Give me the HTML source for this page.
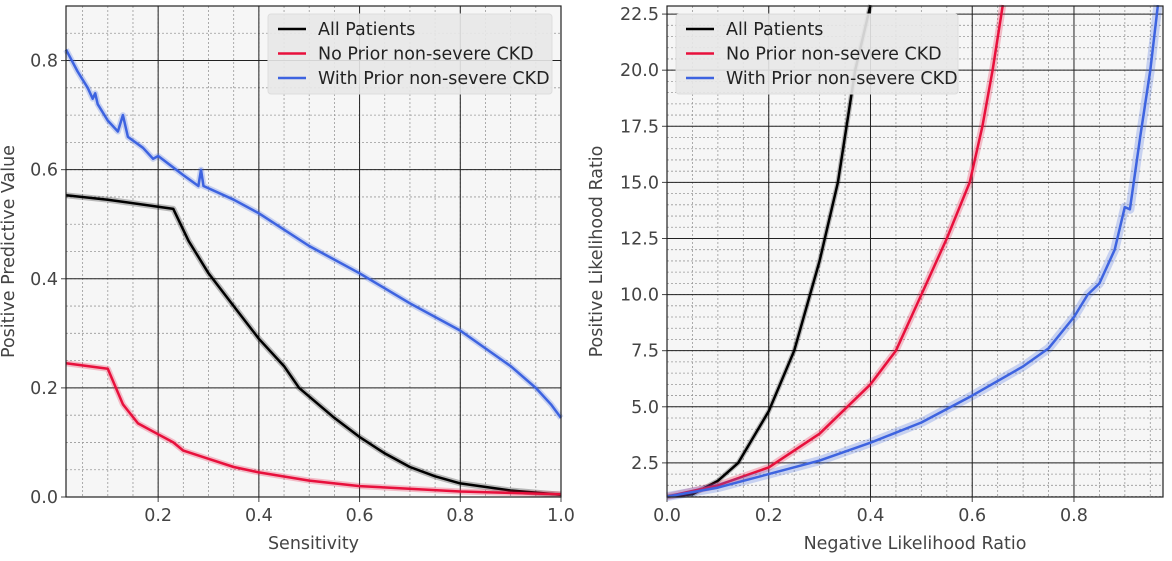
<!DOCTYPE html>
<html><head><meta charset="utf-8"><style>
body{margin:0;background:#fff;font-family:"Liberation Sans","DejaVu Sans",sans-serif}
svg text{font-family:"DejaVu Sans","Liberation Sans",sans-serif;fill:#444}
</style></head><body>
<svg id="c" width="1172" height="556"></svg>
<script>
// Left panel data: sensitivity vs positive predictive value
const leftXTicks=[0.2,0.4,0.6,0.8,1.0];
const leftYTicks=[0.0,0.2,0.4,0.6,0.8];
const allSens=[0.017,0.1,0.2,0.23,0.26,0.3,0.35,0.4,0.45,0.48,0.55,0.6,0.65,0.7,0.75,0.8,0.9,1.0];
const allPPV=[0.553,0.545,0.532,0.528,0.47,0.41,0.35,0.29,0.24,0.2,0.145,0.11,0.08,0.055,0.038,0.025,0.012,0.004];
const noSens=[0.017,0.1,0.13,0.16,0.2,0.23,0.25,0.3,0.35,0.4,0.5,0.6,0.8,1.0];
const noPPV=[0.245,0.235,0.17,0.135,0.115,0.1,0.085,0.07,0.055,0.045,0.03,0.02,0.01,0.005];
const wSens=[0.017,0.04,0.06,0.07,0.075,0.08,0.1,0.12,0.13,0.14,0.17,0.19,0.2,0.25,0.28,0.285,0.29,0.35,0.4,0.5,0.6,0.7,0.8,0.9,0.95,0.98,1.0];
const wPPV=[0.82,0.78,0.75,0.73,0.74,0.72,0.69,0.67,0.70,0.66,0.64,0.62,0.625,0.59,0.57,0.60,0.57,0.545,0.52,0.46,0.41,0.355,0.305,0.24,0.2,0.17,0.145];
// Right panel data: negative LR vs positive LR
const rightXTicks=[0.0,0.2,0.4,0.6,0.8];
const rightYTicks=[2.5,5.0,7.5,10.0,12.5,15.0,17.5,20.0,22.5];
const allNLR=[0,0.05,0.1,0.14,0.2,0.25,0.3,0.336,0.37,0.4];
const allPLR=[1,1.1,1.7,2.5,4.8,7.5,11.5,15,20,22.9];
const noNLR=[0,0.1,0.2,0.3,0.4,0.45,0.5,0.55,0.595,0.62,0.64,0.66];
const noPLR=[1,1.5,2.3,3.8,6,7.5,10,12.5,15,17.5,20,22.9];
const wNLR=[0,0.1,0.2,0.3,0.4,0.5,0.6,0.7,0.75,0.8,0.827,0.85,0.88,0.9,0.91,0.93,0.95,0.965];
const wPLR=[1,1.4,2,2.6,3.4,4.3,5.5,6.8,7.6,9,10,10.5,12,13.9,13.8,17,20,22.9];

const NS="http://www.w3.org/2000/svg",svg=document.getElementById('c');
function el(t,a,p){const e=document.createElementNS(NS,t);for(const k in a)e.setAttribute(k,a[k]);(p||svg).appendChild(e);return e;}
const BLACK='#000',RED='#e8103c',BLUE='#3d63e0',FS=17.5;
function panel(o){
  const g=el('g',{});
  
  
  const sx=v=>o.x0+(v-o.xmin)/(o.xmax-o.xmin)*(o.x1-o.x0);
  const sy=v=>o.y1-(v-o.ymin)/(o.ymax-o.ymin)*(o.y1-o.y0);
  el('rect',{x:o.x0,y:o.y0,width:o.x1-o.x0,height:o.y1-o.y0,fill:'#f6f6f6'},g);
  for(let v=Math.ceil(o.xmin/o.xm)*o.xm;v<=o.xmax+1e-9;v+=o.xm){const X=sx(v);el('line',{x1:X,x2:X,y1:o.y0,y2:o.y1,stroke:'#999','stroke-width':0.8,'stroke-dasharray':'2,2'},g);}
  for(let v=Math.ceil(o.ymin/o.ym)*o.ym;v<=o.ymax+1e-9;v+=o.ym){const Y=sy(v);el('line',{x1:o.x0,x2:o.x1,y1:Y,y2:Y,stroke:'#999','stroke-width':0.8,'stroke-dasharray':'2,2'},g);}
  o.xt.forEach(v=>{const X=sx(v);el('line',{x1:X,x2:X,y1:o.y0,y2:o.y1,stroke:'#222','stroke-width':1},g);
    el('line',{x1:X,x2:X,y1:o.y1,y2:o.y1+5,stroke:'#444'},g);
    const t=el('text',{x:X,y:o.y1+24,'text-anchor':'middle','font-size':FS},g);t.textContent=v.toFixed(1);
    
    });
  o.yt.forEach(v=>{const Y=sy(v);el('line',{x1:o.x0,x2:o.x1,y1:Y,y2:Y,stroke:'#222','stroke-width':1},g);
    el('line',{x1:o.x0-5,x2:o.x0,y1:Y,y2:Y,stroke:'#444'},g);
    const t=el('text',{x:o.x0-8,y:Y+6,'text-anchor':'end','font-size':FS},g);t.textContent=v.toFixed(1);
    
    });
  o.series.forEach(s=>{
    const d=s.x.map((v,i)=>(i?'L':'M')+sx(v).toFixed(1)+','+sy(s.y[i]).toFixed(1)).join('');
    const b=el('path',{d:d,fill:'none',stroke:s.c,'stroke-opacity':0.25,'stroke-width':s.bw,'stroke-linejoin':'round'},g);
    
    
    const p=el('path',{d:d,fill:'none',stroke:s.c,'stroke-width':2.5,'stroke-linejoin':'round'},g);
    
    
  });
  el('rect',{x:o.x0,y:o.y0,width:o.x1-o.x0,height:o.y1-o.y0,fill:'none',stroke:'#222','stroke-width':1.2},g);
  const xl=el('text',{x:(o.x0+o.x1)/2,y:549,'text-anchor':'middle','font-size':FS},g);xl.textContent=o.xl;
  
  
  const cy=(o.y0+o.y1)/2;
  const yl=el('text',{x:o.ylx,y:cy,'text-anchor':'middle','font-size':FS,transform:`rotate(-90 ${o.ylx} ${cy})`},g);yl.textContent=o.yl;
  
  
  const lg=el('g',{},g);
  
  
  el('rect',{x:o.lx,y:14,width:o.lw,height:80,rx:3,fill:'#e8e8e8','fill-opacity':0.9,stroke:'#ddd'},lg);
  [['All Patients',BLACK],['No Prior non-severe CKD',RED],['With Prior non-severe CKD',BLUE]].forEach((e,i)=>{
    const y=29+i*24.5;
    el('line',{x1:o.lx+10,x2:o.lx+38,y1:y,y2:y,stroke:e[1],'stroke-width':2.5},lg);
    const t=el('text',{x:o.lx+50,y:y+6,'font-size':FS,style:'fill:#222'},lg);t.textContent=e[0];
    
    
  });
}
panel({name:'ppv-panel',x0:66,x1:561,y0:6,y1:497,xmin:0.017,xmax:1.0,ymin:0,ymax:0.9,xm:0.05,ym:0.05,
  xt:leftXTicks,yt:leftYTicks,xl:'Sensitivity',yl:'Positive Predictive Value',ylx:14,lx:268,lw:284,
  series:[{n:'all-patients',x:allSens,y:allPPV,c:BLACK,bw:6},{n:'no-prior-ckd',x:noSens,y:noPPV,c:RED,bw:6},{n:'with-prior-ckd',x:wSens,y:wPPV,c:BLUE,bw:6}]});
panel({name:'likelihood-ratio-panel',x0:667,x1:1163,y0:6,y1:497,xmin:0,xmax:0.975,ymin:0.98,ymax:22.86,xm:0.05,ym:0.5,
  xt:rightXTicks,yt:rightYTicks,xl:'Negative Likelihood Ratio',yl:'Positive Likelihood Ratio',ylx:602,lx:676,lw:282,
  series:[{n:'all-patients',x:allNLR,y:allPLR,c:BLACK,bw:5},{n:'no-prior-ckd',x:noNLR,y:noPLR,c:RED,bw:7},{n:'with-prior-ckd',x:wNLR,y:wPLR,c:BLUE,bw:9}]});
</script>
</body></html>
